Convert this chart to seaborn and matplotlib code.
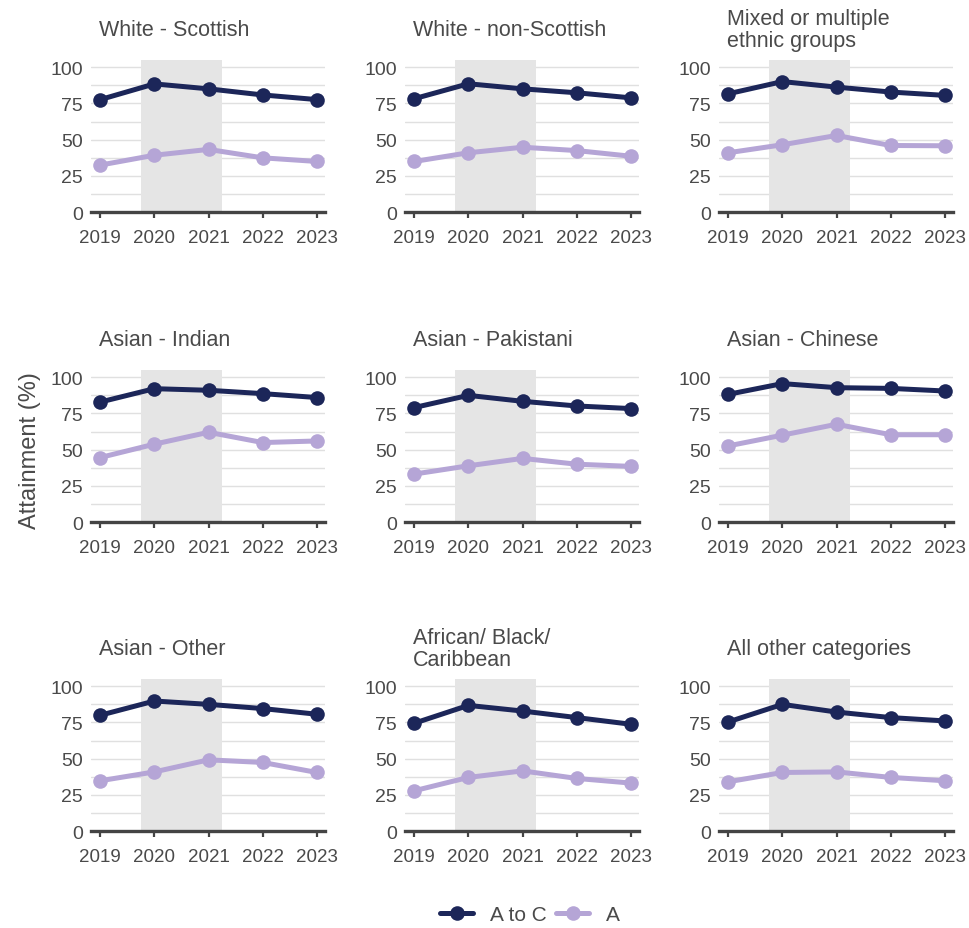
import matplotlib
matplotlib.use("Agg")
import matplotlib.pyplot as plt
from matplotlib.ticker import MultipleLocator
from matplotlib.lines import Line2D
import seaborn as sns
import pandas as pd

years = [2019, 2020, 2021, 2022, 2023]
groups = ["White - Scottish", "White - non-Scottish", "Mixed or multiple\nethnic groups",
          "Asian - Indian", "Asian - Pakistani", "Asian - Chinese",
          "Asian - Other", "African/ Black/\nCaribbean", "All other categories"]
a_to_c = [
    [77.6, 88.4, 85.0, 80.8, 77.6],
    [78.2, 88.5, 85.0, 82.3, 78.8],
    [81.6, 90.0, 86.2, 82.8, 80.5],
    [82.8, 92.0, 90.9, 88.6, 85.9],
    [79.0, 87.4, 83.3, 80.1, 78.3],
    [88.1, 95.5, 92.7, 92.2, 90.4],
    [79.9, 89.7, 87.4, 84.5, 80.6],
    [74.4, 86.7, 82.8, 78.3, 73.7],
    [75.3, 87.4, 82.1, 78.3, 76.0],
]
a_only = [
    [32.5, 39.3, 43.3, 37.5, 35.0],
    [35.0, 41.0, 44.8, 42.5, 38.6],
    [41.0, 46.5, 52.9, 46.0, 45.8],
    [44.6, 53.8, 62.0, 54.9, 56.0],
    [33.2, 38.9, 44.0, 40.0, 38.5],
    [52.6, 60.0, 67.5, 60.3, 60.3],
    [34.8, 40.9, 49.2, 47.4, 40.5],
    [27.9, 37.1, 41.6, 36.4, 33.2],
    [34.1, 40.5, 40.9, 37.1, 34.8],
]
series_names = ["A to C", "A"]
colors = {"A to C": "#1c2659", "A": "#b5a5d6"}

rows = []
for g, ac, a in zip(groups, a_to_c, a_only):
    for y, v1, v2 in zip(years, ac, a):
        rows.append({"group": g, "year": y, "grade": "A to C", "value": v1})
        rows.append({"group": g, "year": y, "grade": "A", "value": v2})
df = pd.DataFrame(rows)

sns.set_theme(style="white")
plt.rcParams['font.family'] = ['Liberation Sans', 'DejaVu Sans']

W, H = 970, 929
fig = plt.figure(figsize=(W / 100, H / 100), dpi=100)

col_left = [91, 405, 719]
row_bottom = [213.3, 523.3, 832.3]
aw, ah = 234, 152.5
text_col = "#4a4a4a"

for i, g in enumerate(groups):
    r, c = divmod(i, 3)
    ax = fig.add_axes([col_left[c] / W, 1 - row_bottom[r] / H, aw / W, ah / H])
    ax.axvspan(2019.75, 2021.25, color="#e5e5e5", zorder=1, lw=0)
    sub = df[df["group"] == g]
    sns.lineplot(data=sub, x="year", y="value", hue="grade", hue_order=series_names,
                 palette=colors, marker="o", markersize=10.5, markeredgewidth=0,
                 linewidth=3.6, legend=False, ax=ax, zorder=3)
    ax.set_xlim(2018.83, 2023.15)
    ax.set_ylim(0, 105)
    ax.set_xticks(years)
    ax.set_xticklabels([str(y) for y in years])
    ax.yaxis.set_major_locator(MultipleLocator(25))
    ax.yaxis.set_minor_locator(MultipleLocator(12.5))
    ax.set_yticks([0, 25, 50, 75, 100])
    ax.grid(axis="y", which="both", color="#e0e0e0", lw=1.0, zorder=0)
    ax.grid(axis="x", visible=False)
    ax.set_axisbelow(True)
    for s in ["top", "right", "left"]:
        ax.spines[s].set_visible(False)
    ax.spines["bottom"].set_color("#444444")
    ax.spines["bottom"].set_linewidth(2.4)
    ax.spines["bottom"].set_zorder(4)
    ax.tick_params(axis="x", which="major", length=4, width=1.6, color="#444444",
                   labelsize=13.5, labelcolor=text_col, pad=8, direction="out", bottom=True)
    ax.tick_params(axis="y", which="both", length=0, labelsize=14, labelcolor=text_col, pad=6)
    ax.set_xlabel("")
    ax.set_ylabel("")
    ax.text(0.035, 1.2, g, transform=ax.transAxes, ha="left", va="center",
            fontsize=15.5, color=text_col, linespacing=1.05)

fig.text(30 / W, 1 - 451 / H, "Attainment (%)", rotation=90, ha="center", va="center",
         fontsize=17, color=text_col)

handles = [Line2D([0], [0], color=colors[n], lw=3.6, marker="o", markersize=10.5,
                  markeredgewidth=0) for n in series_names]
fig.legend(handles, series_names, loc="center", bbox_to_anchor=(530 / W, 1 - 916 / H),
           ncol=2, frameon=False, fontsize=15, handlelength=1.6, columnspacing=0.45,
           handletextpad=0.8, labelcolor=text_col)

fig.savefig("out.png", dpi=100)
